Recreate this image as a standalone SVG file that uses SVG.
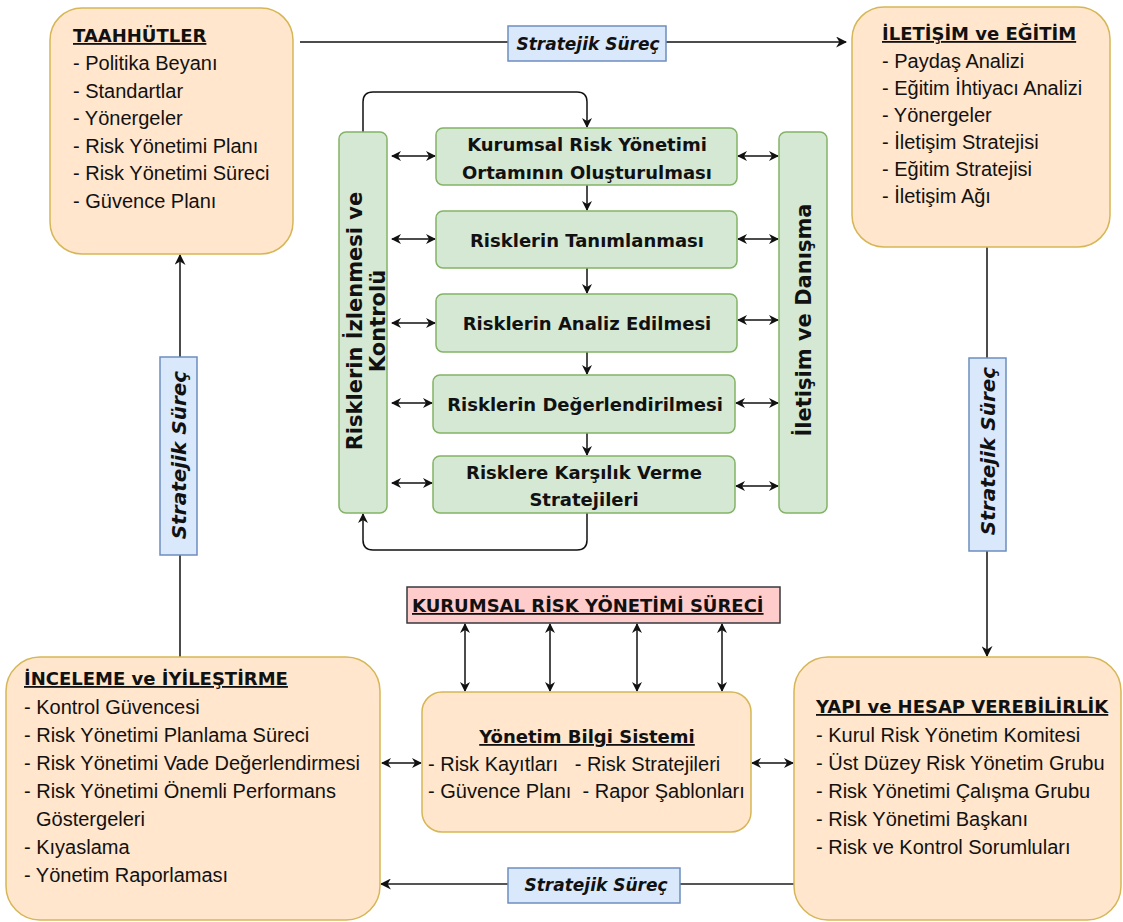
<svg xmlns="http://www.w3.org/2000/svg" width="1123" height="922" viewBox="0 0 1123 922">
  <style>
    .orange { fill: #ffe6cc; stroke: #d6b656; stroke-width: 1.5; }
    .green { fill: #d5e8d4; stroke: #82b366; stroke-width: 1.5; }
    .blue { fill: #dae8fc; stroke: #6c8ebf; stroke-width: 1.5; }
    .pink { fill: #ffcccc; stroke: #36393d; stroke-width: 1.5; }
    .item { font-family: "Liberation Sans", Arial, sans-serif; font-size: 20px; fill: #111; }
    .title { font-family: "DejaVu Sans", Verdana, sans-serif; font-weight: bold; font-size: 18px; fill: #111; text-decoration: underline; }
    .step { font-family: "DejaVu Sans", Verdana, sans-serif; font-weight: bold; font-size: 18px; fill: #111; text-anchor: middle; }
    .side { font-family: "DejaVu Sans", Verdana, sans-serif; font-weight: bold; font-size: 21px; fill: #111; text-anchor: middle; }
    .label { font-family: "DejaVu Sans", Verdana, sans-serif; font-weight: bold; font-style: italic; font-size: 17px; fill: #111; text-anchor: middle; }
    .vlabel { font-size: 20px; }
    .line { fill: none; stroke: #111; stroke-width: 1.5; }
    .gline { fill: none; stroke: #555; stroke-width: 2; }
  </style>
  <defs>
    <marker id="arrow" viewBox="0 0 10 10" refX="9" refY="5" markerWidth="10" markerHeight="10" orient="auto-start-reverse" markerUnits="userSpaceOnUse">
      <path d="M0,0 L10,5 L0,10 L3,5 z" fill="#111"/>
    </marker>
    <marker id="arrowBig" viewBox="0 0 10 10" refX="9" refY="5" markerWidth="11" markerHeight="11" orient="auto-start-reverse" markerUnits="userSpaceOnUse">
      <path d="M0,0 L10,5 L0,10 L3,5 z" fill="#111"/>
    </marker>
  </defs>

  <!-- connectors -->
  <g id="connectors">
    <!-- strategic cycle around the four corner boxes -->
    <line class="line" x1="300" y1="42" x2="846" y2="42" marker-end="url(#arrowBig)"/>
    <line class="line" x1="987" y1="247" x2="987" y2="656" marker-end="url(#arrowBig)"/>
    <line class="gline" x1="794" y1="884" x2="381" y2="884" marker-end="url(#arrowBig)"/>
    <line class="line" x1="180" y1="657" x2="180" y2="255" marker-end="url(#arrowBig)"/>

    <!-- process chain -->
    <line class="line" x1="587" y1="185" x2="587" y2="210" marker-end="url(#arrow)"/>
    <line class="line" x1="587" y1="268" x2="587" y2="293" marker-end="url(#arrow)"/>
    <line class="line" x1="587" y1="352" x2="587" y2="374" marker-end="url(#arrow)"/>
    <line class="line" x1="587" y1="433" x2="587" y2="455" marker-end="url(#arrow)"/>

    <!-- monitoring loop -->
    <path class="line" d="M363,132 L363,102 Q363,92 373,92 L577,92 Q587,92 587,102 L587,127" marker-end="url(#arrow)"/>
    <path class="line" d="M587,513 L587,540 Q587,550 577,550 L373,550 Q363,550 363,540 L363,514" marker-end="url(#arrow)"/>

    <!-- links to the monitoring column -->
    <line class="line" x1="392" y1="156" x2="435" y2="156" marker-start="url(#arrow)" marker-end="url(#arrow)"/>
    <line class="line" x1="392" y1="239" x2="435" y2="239" marker-start="url(#arrow)" marker-end="url(#arrow)"/>
    <line class="line" x1="392" y1="323" x2="435" y2="323" marker-start="url(#arrow)" marker-end="url(#arrow)"/>
    <line class="line" x1="392" y1="403" x2="432" y2="403" marker-start="url(#arrow)" marker-end="url(#arrow)"/>
    <line class="line" x1="392" y1="483" x2="432" y2="483" marker-start="url(#arrow)" marker-end="url(#arrow)"/>

    <!-- links to the communication column -->
    <line class="line" x1="738" y1="156" x2="778" y2="156" marker-start="url(#arrow)" marker-end="url(#arrow)"/>
    <line class="line" x1="738" y1="239" x2="778" y2="239" marker-start="url(#arrow)" marker-end="url(#arrow)"/>
    <line class="line" x1="738" y1="320" x2="778" y2="320" marker-start="url(#arrow)" marker-end="url(#arrow)"/>
    <line class="line" x1="736" y1="403" x2="778" y2="403" marker-start="url(#arrow)" marker-end="url(#arrow)"/>
    <line class="line" x1="736" y1="486" x2="778" y2="486" marker-start="url(#arrow)" marker-end="url(#arrow)"/>

    <!-- process header to information system -->
    <line class="line" x1="465" y1="624" x2="465" y2="691" marker-start="url(#arrow)" marker-end="url(#arrow)"/>
    <line class="line" x1="550" y1="624" x2="550" y2="691" marker-start="url(#arrow)" marker-end="url(#arrow)"/>
    <line class="line" x1="637" y1="624" x2="637" y2="691" marker-start="url(#arrow)" marker-end="url(#arrow)"/>
    <line class="line" x1="722" y1="624" x2="722" y2="691" marker-start="url(#arrow)" marker-end="url(#arrow)"/>

    <!-- information system to side boxes -->
    <line class="line" x1="382" y1="763" x2="421" y2="763" marker-start="url(#arrow)" marker-end="url(#arrow)"/>
    <line class="line" x1="752" y1="763" x2="793" y2="763" marker-start="url(#arrow)" marker-end="url(#arrow)"/>
  </g>

  <!-- strategic process labels -->
  <g id="label-top">
    <rect class="blue" x="508" y="26" width="158" height="35"/>
    <text class="label" x="588" y="50">Stratejik Süreç</text>
  </g>
  <g id="label-right">
    <rect class="blue" x="969" y="358" width="37" height="193"/>
    <text class="label vlabel" transform="translate(995,451) rotate(-90)">Stratejik Süreç</text>
  </g>
  <g id="label-bottom">
    <rect class="blue" x="508" y="868" width="172" height="35"/>
    <text class="label" x="596" y="891">Stratejik Süreç</text>
  </g>
  <g id="label-left">
    <rect class="blue" x="160" y="357" width="37" height="198"/>
    <text class="label vlabel" transform="translate(186,455) rotate(-90)">Stratejik Süreç</text>
  </g>

  <!-- corner boxes -->
  <g id="taahhutler">
    <rect class="orange" x="50" y="8" width="243" height="246" rx="32"/>
    <text class="title" x="73" y="42">TAAHHÜTLER</text>
    <text class="item" x="73" y="70">- Politika Beyanı</text>
    <text class="item" x="73" y="97.5">- Standartlar</text>
    <text class="item" x="73" y="125">- Yönergeler</text>
    <text class="item" x="73" y="152.5">- Risk Yönetimi Planı</text>
    <text class="item" x="73" y="180">- Risk Yönetimi Süreci</text>
    <text class="item" x="73" y="207.5">- Güvence Planı</text>
  </g>

  <g id="iletisim-egitim">
    <rect class="orange" x="852" y="7" width="258" height="240" rx="32"/>
    <text class="title" x="882" y="40">İLETİŞİM ve EĞİTİM</text>
    <text class="item" x="882" y="68">- Paydaş Analizi</text>
    <text class="item" x="882" y="95">- Eğitim İhtiyacı Analizi</text>
    <text class="item" x="882" y="122">- Yönergeler</text>
    <text class="item" x="882" y="149">- İletişim Stratejisi</text>
    <text class="item" x="882" y="176">- Eğitim Stratejisi</text>
    <text class="item" x="882" y="203">- İletişim Ağı</text>
  </g>

  <g id="inceleme">
    <rect class="orange" x="6" y="657" width="374" height="263" rx="34"/>
    <text class="title" x="24" y="685">İNCELEME ve İYİLEŞTİRME</text>
    <text class="item" x="24" y="714">- Kontrol Güvencesi</text>
    <text class="item" x="24" y="742">- Risk Yönetimi Planlama Süreci</text>
    <text class="item" x="24" y="770">- Risk Yönetimi Vade Değerlendirmesi</text>
    <text class="item" x="24" y="798">- Risk Yönetimi Önemli Performans</text>
    <text class="item" x="36" y="826">Göstergeleri</text>
    <text class="item" x="24" y="854">- Kıyaslama</text>
    <text class="item" x="24" y="882">- Yönetim Raporlaması</text>
  </g>

  <g id="yapi">
    <rect class="orange" x="794" y="657" width="327" height="263" rx="34"/>
    <text class="title" x="816" y="713">YAPI ve HESAP VEREBİLİRLİK</text>
    <text class="item" x="816" y="742">- Kurul Risk Yönetim Komitesi</text>
    <text class="item" x="816" y="770">- Üst Düzey Risk Yönetim Grubu</text>
    <text class="item" x="816" y="798">- Risk Yönetimi Çalışma Grubu</text>
    <text class="item" x="816" y="826">- Risk Yönetimi Başkanı</text>
    <text class="item" x="816" y="854">- Risk ve Kontrol Sorumluları</text>
  </g>

  <!-- central process -->
  <g id="izleme-kontrol">
    <rect class="green" x="339" y="132" width="48" height="381" rx="7"/>
    <text class="side" transform="translate(362,321) rotate(-90)">Risklerin İzlenmesi ve</text>
    <text class="side" transform="translate(385,321) rotate(-90)">Kontrolü</text>
  </g>

  <g id="iletisim-danisma">
    <rect class="green" x="779" y="132" width="48" height="381" rx="7"/>
    <text class="side" transform="translate(811,320) rotate(-90)">İletişim ve Danışma</text>
  </g>

  <g id="ortam">
    <rect class="green" x="436" y="128" width="301" height="57" rx="7"/>
    <text class="step" x="587" y="151">Kurumsal Risk Yönetimi</text>
    <text class="step" x="587" y="179">Ortamının Oluşturulması</text>
  </g>
  <g id="tanimlama">
    <rect class="green" x="436" y="211" width="301" height="57" rx="7"/>
    <text class="step" x="587" y="247">Risklerin Tanımlanması</text>
  </g>
  <g id="analiz">
    <rect class="green" x="436" y="294" width="301" height="58" rx="7"/>
    <text class="step" x="587" y="330">Risklerin Analiz Edilmesi</text>
  </g>
  <g id="degerlendirme">
    <rect class="green" x="433" y="375" width="302" height="58" rx="7"/>
    <text class="step" x="585" y="411">Risklerin Değerlendirilmesi</text>
  </g>
  <g id="karsilik">
    <rect class="green" x="433" y="456" width="302" height="57" rx="7"/>
    <text class="step" x="584" y="479">Risklere Karşılık Verme</text>
    <text class="step" x="584" y="506">Stratejileri</text>
  </g>

  <g id="krys-sureci">
    <rect class="pink" x="407" y="587" width="373" height="36"/>
    <text class="title" x="412" y="612">KURUMSAL RİSK YÖNETİMİ SÜRECİ</text>
  </g>

  <g id="ybs">
    <rect class="orange" x="422" y="692" width="329" height="140" rx="20"/>
    <text class="title" x="587" y="743" text-anchor="middle">Yönetim Bilgi Sistemi</text>
    <text class="item" x="428" y="771" xml:space="preserve">- Risk Kayıtları   - Risk Stratejileri</text>
    <text class="item" x="428" y="798" xml:space="preserve">- Güvence Planı  - Rapor Şablonları</text>
  </g>
</svg>
